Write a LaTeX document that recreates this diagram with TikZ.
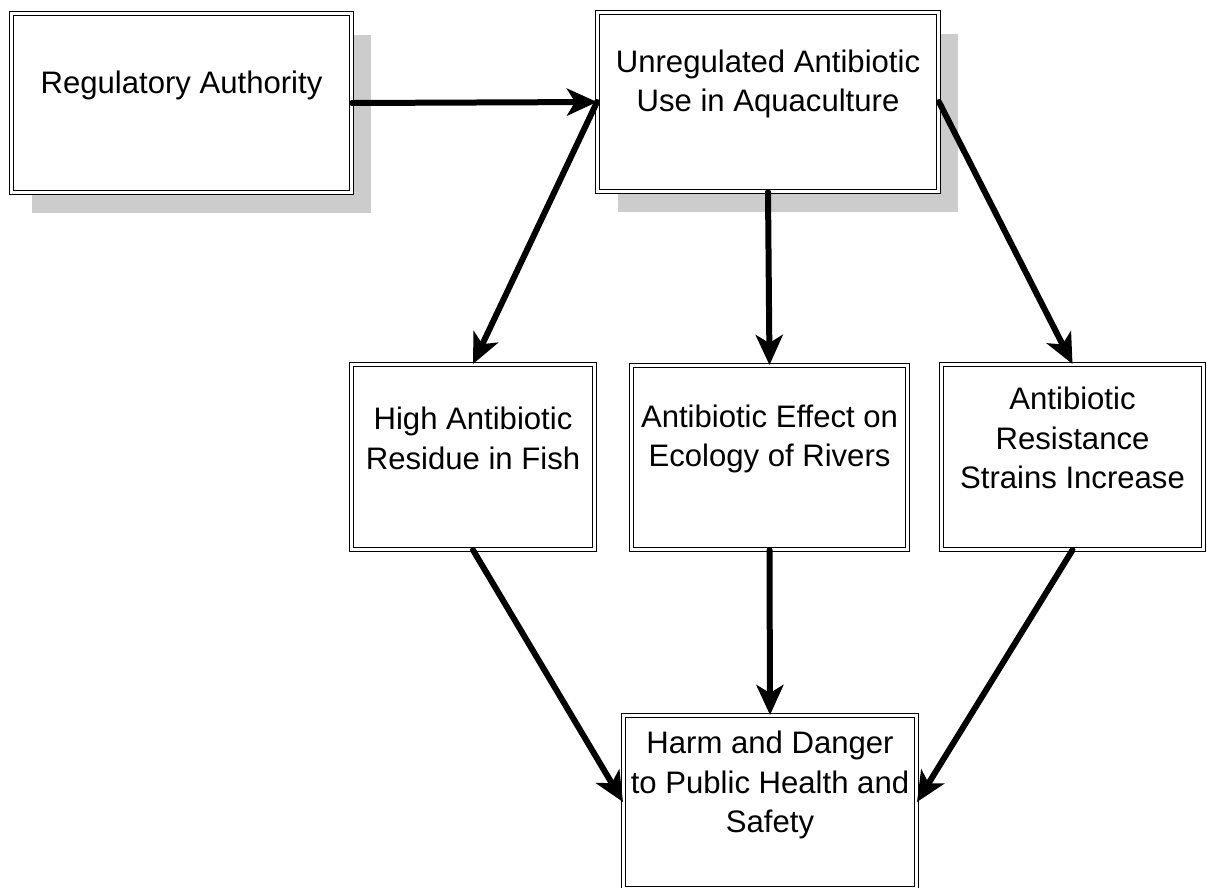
\documentclass[tikz,border=0pt]{standalone}
\usepackage{fontspec}
\setmainfont{Liberation Sans}
\usetikzlibrary{arrows.meta, positioning, shadows}

\tikzset{
  box/.style={draw=black, line width=0.6pt, double=white, double distance=1.6pt, fill=white},
  shadowed/.style={general shadow={fill=black!20, shadow xshift=0.4cm, shadow yshift=-0.42cm}},
  label/.style={align=center, font=\fontsize{17.7}{22.7}\selectfont},
  flow/.style={-{Stealth[length=0.6cm, width=0.54cm, inset=0.16cm]}, line width=0.12cm, line cap=round}
}

\begin{document}
\begin{tikzpicture}[x=0.02cm, y=-0.02cm]
        \useasboundingbox (0,0) rectangle (1207,887);
        % Top row
        \node[box, shadowed, minimum width=6.8cm, minimum height=3.58cm] (REG) at (181.5,103) {};
        \node[box, shadowed, minimum width=6.82cm, minimum height=3.58cm] (USE) at (768,102) {};
        \node[label] (REGt) at ([yshift=-1.44cm]REG.north) {Regulatory Authority};
        \node[label] (USEt) at ([yshift=-1.44cm]USE.north) {Unregulated Antibiotic\\Use in Aquaculture};
        
        % Middle row
        \node[box, minimum width=4.86cm, minimum height=3.7cm] (FISH) at (473,457) {};
        \node[box, minimum width=5.52cm, minimum height=3.68cm] (RIV) at (769.5,457.5) {};
        \node[box, minimum width=5.24cm, minimum height=3.7cm] (RES) at (1072.5,457) {};
        \node[label] (FISHt) at ([yshift=-1.48cm]FISH.north) {High Antibiotic\\Residue in Fish};
        \node[label] (RIVt) at ([yshift=-1.48cm]RIV.north) {Antibiotic Effect on\\Ecology of Rivers};
        \node[label] (RESt) at ([yshift=-1.48cm]RES.north) {Antibiotic\\Resistance\\Strains Increase};
        
        % Bottom box
        \node[box, minimum width=5.86cm, minimum height=3.46cm] (HARM) at (770,802) {};
        \node[label] (HARMt) at ([yshift=-1.4cm]HARM.north) {Harm and Danger\\to Public Health and\\Safety};
        
        % Arrows
        \draw[flow] (REG.east) -- (USE.west);
        \draw[flow] (USE.west) -- (FISH.north);
        \draw[flow] (USE.south) -- (RIV.north);
        \draw[flow] (USE.east) -- (RES.north);
        \draw[flow] (FISH.south) -- (HARM.west);
        \draw[flow] (RIV.south) -- (HARM.north);
        \draw[flow] (RES.south) -- (HARM.east);
        
    \end{tikzpicture}
\end{document}
